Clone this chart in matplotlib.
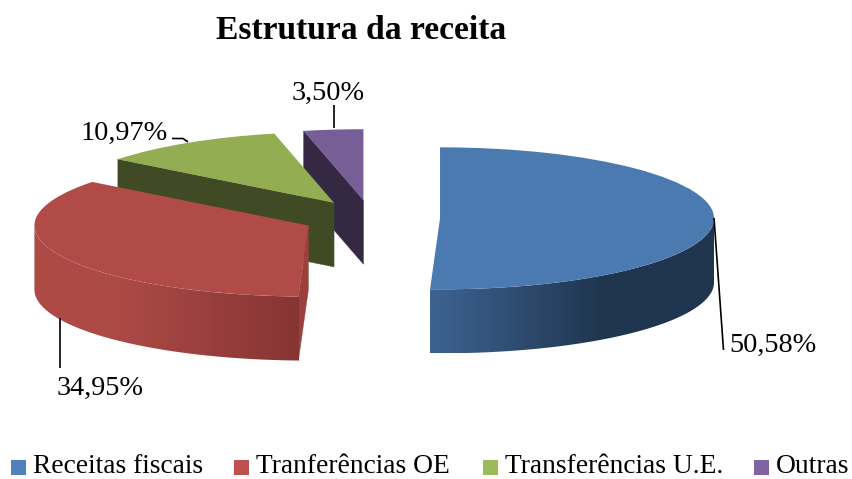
import numpy as np
import matplotlib
matplotlib.use("Agg")
import matplotlib.pyplot as plt
from matplotlib.colors import to_rgb
from matplotlib.patches import Rectangle, Polygon

title = "Estrutura da receita"
categories = ["Receitas fiscais", "Tranferências OE", "Transferências U.E.", "Outras"]
values = [50.58, 34.95, 10.97, 3.50]
value_labels = ["50,58%", "34,95%", "10,97%", "3,50%"]
top_colors = ["#4A7AB0", "#B04B47", "#93AD53", "#785E96"]
legend_colors = ["#4F81BD", "#C0504D", "#9BBB59", "#8064A2"]
face_colors = ["#20354F", "#9C403D", "#404B25", "#352843"]
rim_stops = [
    ([0.0, 0.6, 1.0], ["#3B618E", "#20354F", "#20354F"]),
    ([-1.0, -0.7, 0.0], ["#AD4A46", "#AD4A46", "#843433"]),
    ([-1.0, 1.0], ["#404B25", "#404B25"]),
    ([-1.0, 1.0], ["#352843", "#352843"]),
]

W, H = 852, 479
CX, CY, RX, RY, DEPTH_PX = 371, 218, 274, 71, 64
depth = DEPTH_PX / RY


def px(x, y):
    return (x - CX) / RX, (CY - y) / RY


fig = plt.figure(figsize=(W / 100, H / 100), dpi=100)
ax = fig.add_axes([0, 0, 1, 1])
wedges, _ = ax.pie(values, explode=[0.252] * 4, startangle=90, counterclock=False,
                   radius=1, colors=top_colors, wedgeprops={"linewidth": 0})

order = [3, 2, 1, 0]  # back to front
for rank, i in enumerate(order):
    w = wedges[i]
    cx, cy = w.center
    t1, t2 = w.theta1, w.theta2
    z = 2 + rank * 3
    # cut faces turned towards the viewer
    for t, normal in ((t1, t1 - 90), (t2, t2 + 90)):
        if np.sin(np.radians(normal)) < -0.02:
            ex, ey = cx + np.cos(np.radians(t)), cy + np.sin(np.radians(t))
            ax.add_patch(Polygon([(cx, cy), (ex, ey), (ex, ey - depth), (cx, cy - depth)],
                                 closed=True, fc=face_colors[i], ec=face_colors[i], lw=0.3, zorder=z))
    # outer rim, front part only, with a left-to-right gradient clipped to its outline
    th = np.radians(np.arange(t1, t2 + 0.25, 0.25))
    th = th[np.sin(th) <= 0.001]
    if len(th) > 1:
        xs_rim = cx + np.cos(th)
        ys_rim = cy + np.sin(th)
        outline = list(zip(xs_rim, ys_rim)) + list(zip(xs_rim[::-1], ys_rim[::-1] - depth))
        clip = Polygon(outline, closed=True, transform=ax.transData, fc="none", ec="none")
        ax.add_patch(clip)
        u = np.linspace(np.cos(th).min(), np.cos(th).max(), 400)
        stops_x, stops_c = rim_stops[i]
        rgb = np.array([to_rgb(c) for c in stops_c])
        grad = np.stack([np.interp(u, stops_x, rgb[:, k]) for k in range(3)], axis=-1)[None, :, :]
        im = ax.imshow(grad, extent=[xs_rim.min(), xs_rim.max(), (ys_rim - depth).min(), ys_rim.max()],
                       aspect="auto", origin="lower", interpolation="bilinear", zorder=z + 1)
        im.set_clip_path(clip)
    w.set_zorder(z + 2)

ax.set_aspect("auto")
ax.set_xlim(px(0, 0)[0], px(W, 0)[0])
ax.set_ylim(px(0, H)[1], px(0, 0)[1])
ax.axis("off")

font = "Liberation Serif"
leaders = [
    ([714, 723.5], [218, 350]),
    ([60, 60], [318, 368]),
    ([172, 183, 188], [138.5, 138.5, 142]),
    ([334, 334], [105, 128]),
]
for xs, ys in leaders:
    d = [px(x, y) for x, y in zip(xs, ys)]
    ax.plot([p[0] for p in d], [p[1] for p in d], color="black", lw=1.2, zorder=20, solid_capstyle="butt")

label_pos = [(729, 352), (57, 395), (81, 140), (292, 100)]
for s, (x, y) in zip(value_labels, label_pos):
    ax.text(*px(x, y), s, family=font, fontsize=20.3, color="black", ha="left", va="baseline", zorder=21)

ax.text(*px(361, 39.5), title, family=font, fontsize=24.2, fontweight="bold", color="black",
        ha="center", va="baseline", zorder=21)

swatch_x = [11, 234, 483, 754]
text_x = [33, 256, 505, 776]
for c, name, sx, tx in zip(legend_colors, categories, swatch_x, text_x):
    x0, y0 = px(sx, 475)
    x1, y1 = px(sx + 15, 460)
    ax.add_patch(Rectangle((x0, y0), x1 - x0, y1 - y0, fc=c, ec="none", zorder=21))
    ax.text(*px(tx, 473.5), name, family=font, fontsize=19.8, color="black", ha="left", va="baseline", zorder=21)

fig.savefig("out.png", dpi=100, facecolor="white")
